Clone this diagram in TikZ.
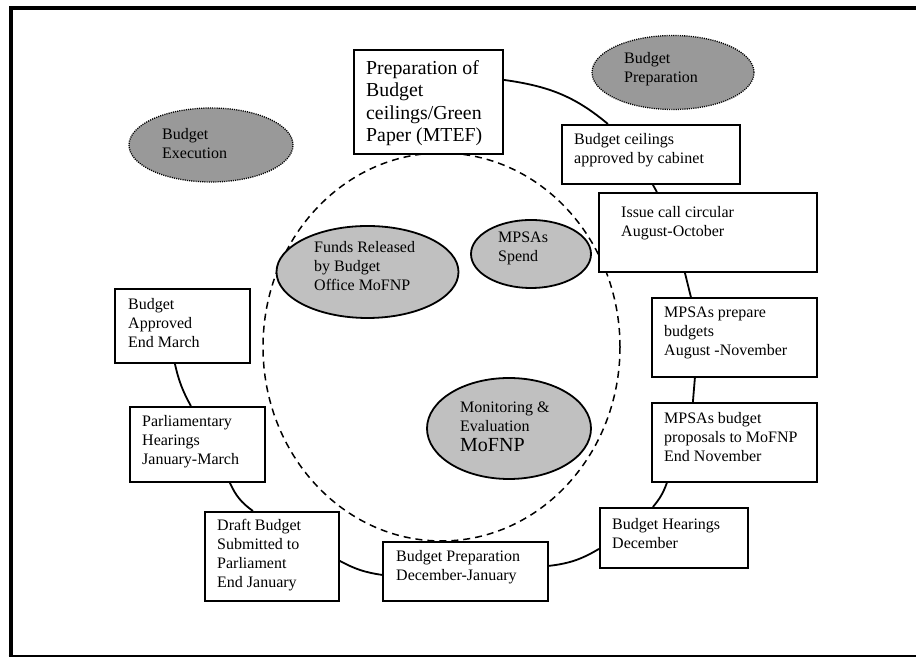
\documentclass[tikz,border=0pt]{standalone}
\usepackage{fontspec}
\setmainfont{Liberation Serif}
\usetikzlibrary{shapes.geometric,calc}
\definecolor{grayA}{RGB}{192,192,192}
\definecolor{grayB}{RGB}{153,153,153}
\tikzset{
 stagebox/.style={draw, line width=1.8pt, fill=white, rectangle, inner sep=0pt, anchor=north west},
 lbl/.style={anchor=west, align=left, inner sep=0pt, font=\fontsize{16}{19}\selectfont},
 actor/.style={ellipse, draw, line width=1.8pt, fill=grayA, inner sep=0pt},
 phase/.style={ellipse, draw, line width=1.3pt, fill=grayB, dash pattern=on 1.1pt off 1.1pt, inner sep=0pt},
 link/.style={line width=1.8pt},
}
\begin{document}
\begin{tikzpicture}[x=1pt,y=1pt]
\useasboundingbox (0,0) rectangle (916,660);
% frame
\draw[line width=4pt] (916,652) -- (10.5,652) -- (10.5,2.5);
\draw[line width=2pt] (8.5,3.5) -- (916,3.5);
% dashed cycle
\node[ellipse, draw, line width=1.5pt, dash pattern=on 7pt off 5pt, minimum width=357pt, minimum height=388pt, inner sep=0pt] (cyc) at (441.5,313) {};
% boxes
\node[stagebox, minimum width=149pt, minimum height=104pt] (b1) at (353,611) {};
\node[stagebox, minimum width=178pt, minimum height=59pt] (b2) at (561,536) {};
\node[stagebox, minimum width=218pt, minimum height=79pt] (b3) at (598,468) {};
\node[stagebox, minimum width=165pt, minimum height=79pt] (b4) at (651,363) {};
\node[stagebox, minimum width=165pt, minimum height=79pt] (b5) at (651,258) {};
\node[stagebox, minimum width=148pt, minimum height=60pt] (b6) at (599,153) {};
\node[stagebox, minimum width=165pt, minimum height=59pt] (b7) at (382,119) {};
\node[stagebox, minimum width=134pt, minimum height=89pt] (b8) at (204,149) {};
\node[stagebox, minimum width=135pt, minimum height=75pt] (b9) at (129,254) {};
\node[stagebox, minimum width=135pt, minimum height=74pt] (b10) at (114,372) {};
% connectors
\draw[link] ([yshift=22pt]b1.east) to[out=-8,in=140] ([xshift=-43pt]b2.north);
\draw[link] ([xshift=2pt]b2.south) -- ([xshift=-51pt]b3.north);
\draw[link] ([xshift=-23pt]b3.south) -- ([xshift=-43.5pt]b4.north);
\draw[link] ([xshift=-39.5pt]b4.south) -- ([xshift=-41.5pt]b5.north);
\draw[link] ([xshift=-67.5pt]b5.south) to[bend left=10] ([xshift=-21pt]b6.north);
\draw[link] ([yshift=-11pt]b6.west) to[bend left=12] ([yshift=5.5pt]b7.east);
\draw[link] ([yshift=-3.5pt]b7.west) to[bend left=10] ([yshift=-4.5pt]b8.east);
\draw[link] ([xshift=-19pt]b8.north) to[bend left=15] ([xshift=32.5pt]b9.south);
\draw[link] ([xshift=-6.5pt]b9.north) to[bend left=8] ([xshift=-7.5pt]b10.south);
% box texts
\node[lbl, font=\fontsize{19.8}{22.5}\selectfont] (t1) at (366,557) {Preparation of\\Budget\\ceilings/Green\\Paper (MTEF)};
\node[lbl] (t2) at (574,509.5) {Budget ceilings\\approved by cabinet};
\node[lbl] (t3) at (621,437) {Issue call circular\\August-October};
\node[lbl] (t4) at (664,327.5) {MPSAs prepare\\budgets\\August -November};
\node[lbl] (t5) at (664,222.5) {MPSAs budget\\proposals to MoFNP\\End November};
\node[lbl] (t6) at (612,126.5) {Budget Hearings\\December};
\node[lbl] (t7) at (396,93) {Budget Preparation\\December-January};
\node[lbl] (t8) at (217,105) {Draft Budget\\Submitted to\\Parliament\\End January};
\node[lbl] (t9) at (142,218.5) {Parliamentary\\Hearings\\January-March};
\node[lbl] (t10) at (128,337) {Budget\\Approved\\End March};
% ellipses
\node[phase, minimum width=162pt, minimum height=74pt] (pBP) at (673,587.5) {};
\node[phase, minimum width=164pt, minimum height=74pt] (pBE) at (211,515) {};
\node[actor, minimum width=182pt, minimum height=92pt] (aFR) at (367.5,388) {};
\node[actor, minimum width=120pt, minimum height=68pt] (aMS) at (531,406) {};
\node[actor, minimum width=164pt, minimum height=101pt] (aME) at (509,231.5) {};
\node[lbl] (tBP) at (624,590.5) {Budget\\Preparation};
\node[lbl] (tBE) at (162,516.5) {Budget\\Execution};
\node[lbl] (tFR) at (314,394) {Funds Released\\by Budget\\Office MoFNP};
\node[lbl] (tMS) at (498,412) {MPSAs\\Spend};
\node[lbl] (tME) at (460,233) {Monitoring \&\\Evaluation\\[1pt]{\fontsize{20}{21}\selectfont MoFNP}};
\end{tikzpicture}
\end{document}
